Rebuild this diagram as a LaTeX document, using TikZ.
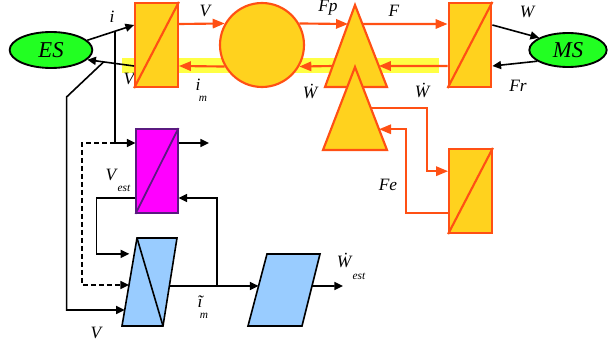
\documentclass[tikz,border=0pt]{standalone}
\usepackage{fontspec}
\setmainfont{Liberation Serif}
\usetikzlibrary{arrows.meta,positioning,calc,shapes.geometric}
\definecolor{convfill}{HTML}{FFD21E}
\definecolor{convline}{HTML}{FF5014}
\definecolor{srcgreen}{HTML}{22FF22}
\definecolor{estmag}{HTML}{FF00FF}
\definecolor{estline}{HTML}{5A1A80}
\definecolor{obsblue}{HTML}{99CCFF}
\definecolor{bandyellow}{HTML}{FFFF44}
\tikzset{
  convbox/.style={draw=convline,fill=convfill,line width=1.6pt,minimum width=32pt,
    minimum height=63pt,inner sep=0pt},
  convshape/.style={draw=convline,fill=convfill,line width=1.6pt,line join=miter},
  sourcenode/.style={ellipse,draw=black,fill=srcgreen,line width=1.4pt,inner sep=0pt,
    font=\itshape\fontsize{17}{17}\selectfont},
  estbox/.style={draw=estline,fill=estmag,line width=1.3pt,minimum width=31pt,
    minimum height=63pt,inner sep=0pt},
  obsshape/.style={draw=black,fill=obsblue,line width=1.2pt},
  powerarrow/.style={-{Triangle[length=9pt,width=7pt]},draw=convline,line width=1.6pt},
  signalarrow/.style={-{Triangle[length=6.5pt,width=6pt]},draw=black,line width=1.2pt},
  varlabel/.style={font=\itshape\fontsize{13}{13}\selectfont,inner sep=0pt},
  sublabel/.style={font=\itshape\fontsize{8.5}{9}\selectfont,inner sep=0pt}
}
\begin{document}
\begin{tikzpicture}[x=0.75pt,y=-0.75pt]
  \useasboundingbox (0,0) rectangle (608,349);
  % band behind the return path
  \fill[bandyellow] (122,58) rectangle (439,73);
  \node[varlabel] (lvr) at (129,79) {V};

  % levels used by the connectors
  \coordinate (lvI) at (0,25);
  \coordinate (lvF) at (0,24);
  \coordinate (lvW) at (0,66);
  \coordinate (lvE) at (0,143);
  \coordinate (lvL) at (0,198);

  % power chain
  \node[sourcenode,minimum width=62pt,minimum height=27pt] (es) at (51,50) {ES};
  \node[convbox] (conv1) at (156.5,45) {};
  \draw[draw=convline,line width=1.6pt] (conv1.south west) -- (conv1.north east);
  \node[circle,draw=convline,fill=convfill,line width=1.6pt,minimum size=63pt,
        inner sep=0pt] (circ) at (262,45) {};
  \coordinate (pa) at (355,5);
  \coordinate (pl) at (325,87);
  \coordinate (pr) at (387,87);
  \draw[convshape] (pa) -- (pr) -- (pl) -- cycle;
  \coordinate (ea) at (355,67);
  \coordinate (el) at (323,150);
  \coordinate (er) at (387,150);
  \draw[convshape] (ea) -- (er) -- (el) -- cycle;
  \node[convbox] (conv2) at (470,45) {};
  \draw[draw=convline,line width=1.6pt] (conv2.south west) -- (conv2.north east);
  \node[sourcenode,minimum width=58pt,minimum height=25.5pt] (ms) at (568,50) {MS};
  \node[convbox] (conv3) at (470.5,191) {};
  \draw[draw=convline,line width=1.6pt] (conv3.south west) -- (conv3.north east);

  \draw[powerarrow] (conv1.east |- lvF) -- (circ.150);
  \draw[powerarrow] (circ.30) -- ($(pa)!0.232!(pl)$);
  \draw[powerarrow] ($(pa)!0.232!(pr)$) -- (conv2.west |- lvF);
  \draw[powerarrow] (conv2.west |- lvW) -- ($(pa)!0.744!(pr)$);
  \draw[powerarrow] ($(pa)!0.744!(pl)$) -- (circ.330);
  \draw[powerarrow] (circ.210) -- (conv1.east |- lvW);
  \coordinate (fein) at ($(conv3.north west)!0.27!(conv3.south west)$);
  \coordinate (feout) at ($(conv3.north west)!0.76!(conv3.south west)$);
  \draw[powerarrow] ($(ea)!0.49!(er)$) -| ($(fein)+(-21,0)$) -- (fein);
  \draw[powerarrow] (feout) -- ++(-42,0) |- ($(ea)!0.75!(er)$);

  \draw[signalarrow] (conv2.east |- lvI) -- (ms.157);
  \draw[signalarrow] (ms.200) -- (conv2.east |- lvW);

  % estimation part
  \node[estbox] (est) at (157,171) {};
  \draw[draw=estline,line width=1.3pt] (est.south west) -- (est.north east);
  \coordinate (ota) at (137,238);
  \coordinate (otb) at (177,238);
  \coordinate (otc) at (163,326);
  \coordinate (otd) at (122,326);
  \draw[obsshape] (ota) -- (otb) -- (otc) -- (otd) -- cycle;
  \draw[obsshape] (ota) -- (otc);
  \coordinate (pwa) at (267,254);
  \coordinate (pwb) at (320,254);
  \coordinate (pwc) at (302,326);
  \coordinate (pwd) at (248,326);
  \draw[obsshape] (pwa) -- (pwb) -- (pwc) -- (pwd) -- cycle;

  \draw[signalarrow] (es.15) -- (conv1.west |- lvI);
  \draw[signalarrow] (conv1.west |- lvW) -- (es.-15);
  \coordinate (itap) at ($(es.15)!0.59!(conv1.west |- lvI)$);
  \coordinate (vtap) at ($(conv1.west |- lvW)!0.65!(es.-15)$);
  \draw[signalarrow] (itap) |- (est.west |- lvE);
  \coordinate (estout) at (209,143);
  \draw[signalarrow] (est.east |- lvE) -- (estout);
  \draw[signalarrow,dashed,dash pattern=on 3.5pt off 2.5pt] (itap |- lvE) -- ++(-33,0)
    |- ($(ota)!0.534!(otd)$);
  \draw[signalarrow] (est.west |- lvL) -- ++(-39,0) |- ($(ota)!0.18!(otd)+(-5,0)$);
  \draw[signalarrow] (vtap) -- ++(-37,35) |- ($(ota)!0.818!(otd)$);
  \coordinate (imout) at ($(otb)!0.545!(otc)$);
  \coordinate (ifb) at (217,286);
  \draw[signalarrow] (imout) -- ($(pwa)!0.444!(pwd)$);
  \draw[signalarrow] (ifb) |- (est.east |- lvL);
  \coordinate (wout) at (343,286);
  \draw[signalarrow] ($(pwb)!0.444!(pwc)$) -- (wout);

  % labels
  \node[varlabel] at (112,17) {i};
  \node[varlabel] at (205,11) {V};
  \node[varlabel] at (198,85) {i};
  \node[sublabel] at (203,99) {m};
  \node[varlabel] at (328,8) {Fp};
  \node[varlabel] at (394,11) {F};
  \node[varlabel] at (310,91) {\.{W}};
  \node[varlabel] at (422,90) {\.{W}};
  \node[varlabel] at (527,12) {W};
  \node[varlabel] at (518,86) {Fr};
  \node[varlabel] at (388,185) {Fe};
  \node[varlabel] at (111,175) {V};
  \node[sublabel] at (124,188) {est};
  \node[varlabel] at (200,302) {\~{\i}};
  \node[sublabel] at (204,316) {m};
  \node[varlabel] at (96,333) {V};
  \node[varlabel] at (344,260) {\.{W}};
  \node[sublabel] at (359,276) {est};
\end{tikzpicture}
\end{document}
